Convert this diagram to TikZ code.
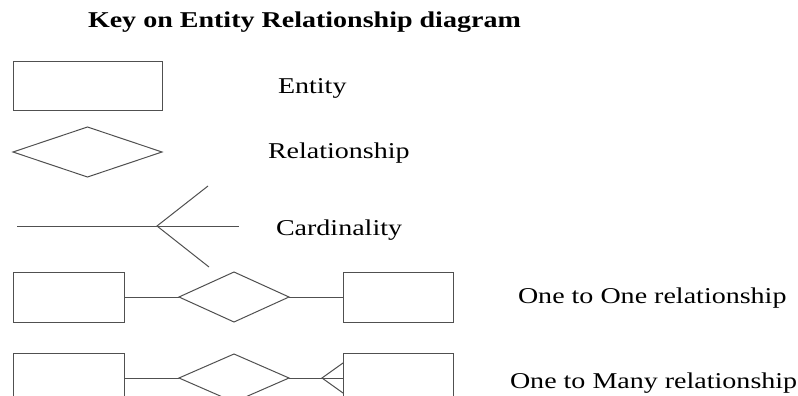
\documentclass[tikz,border=0pt]{standalone}
\usepackage{fontspec}
\setmainfont{Liberation Serif}
\usetikzlibrary{shapes.geometric}
\definecolor{linegray}{RGB}{80,80,80}
\begin{document}
\begin{tikzpicture}[x=1pt,y=-1pt,
  every node/.style={inner sep=0pt, outer sep=0pt},
  entitybox/.style={draw=linegray, line width=1pt, rectangle},
  relbox/.style={draw=linegray, line width=1pt, diamond},
  link/.style={draw=linegray, line width=1pt},
  keytext/.style={anchor=base west, xscale=1.24, font=\fontsize{22.6}{27}\selectfont},
  titletext/.style={keytext, font=\fontsize{22.6}{27}\selectfont\bfseries}]
\useasboundingbox (0,0) rectangle (798,396);
\clip (0,0) rectangle (798,396);

% title
\node[titletext] (title) at (88,28) {Key on Entity Relationship diagram};

% entity symbol
\node[entitybox, minimum width=149pt, minimum height=48pt] (ent) at (87.5,86) {};
\node[keytext] (entlbl) at (278,93) {Entity};

% relationship symbol
\node[relbox, minimum width=149pt, minimum height=50pt] (rel) at (87.5,152) {};
\node[keytext] (rellbl) at (268,158) {Relationship};

% cardinality symbol (crow's foot)
\coordinate (cl) at (17,226);
\coordinate (cv) at (157,226);
\coordinate (cr) at (239,226);
\coordinate (cu) at (208,186);
\coordinate (cd) at (209,267);
\draw[link] (cl) -- (cr);
\draw[link] (cu) -- (cv) -- (cd);
\node[keytext] (cardlbl) at (276,235) {Cardinality};

% one to one
\node[entitybox, minimum width=111pt, minimum height=50pt] (a1) at (68.5,297) {};
\node[relbox, minimum width=110pt, minimum height=50pt] (r1) at (234,297) {};
\node[entitybox, minimum width=110pt, minimum height=50pt] (b1) at (398,297) {};
\draw[link] (a1.east) -- (r1.west);
\draw[link] (r1.east) -- (b1.west);
\node[keytext] (onelbl) at (518,303) {One to One relationship};

% one to many
\node[entitybox, minimum width=111pt, minimum height=50pt] (a2) at (68.5,378) {};
\node[relbox, minimum width=110pt, minimum height=48pt] (r2) at (234,378) {};
\node[entitybox, minimum width=110pt, minimum height=50pt] (b2) at (398,378) {};
\coordinate (foot) at (322,378);
\draw[link] (a2.east) -- (r2.west);
\draw[link] (r2.east) -- (b2.west);
\draw[link] ([yshift=15pt]b2.west) -- (foot) -- ([yshift=-15pt]b2.west);
\node[keytext] (manylbl) at (510,388) {One to Many relationship};
\end{tikzpicture}
\end{document}
